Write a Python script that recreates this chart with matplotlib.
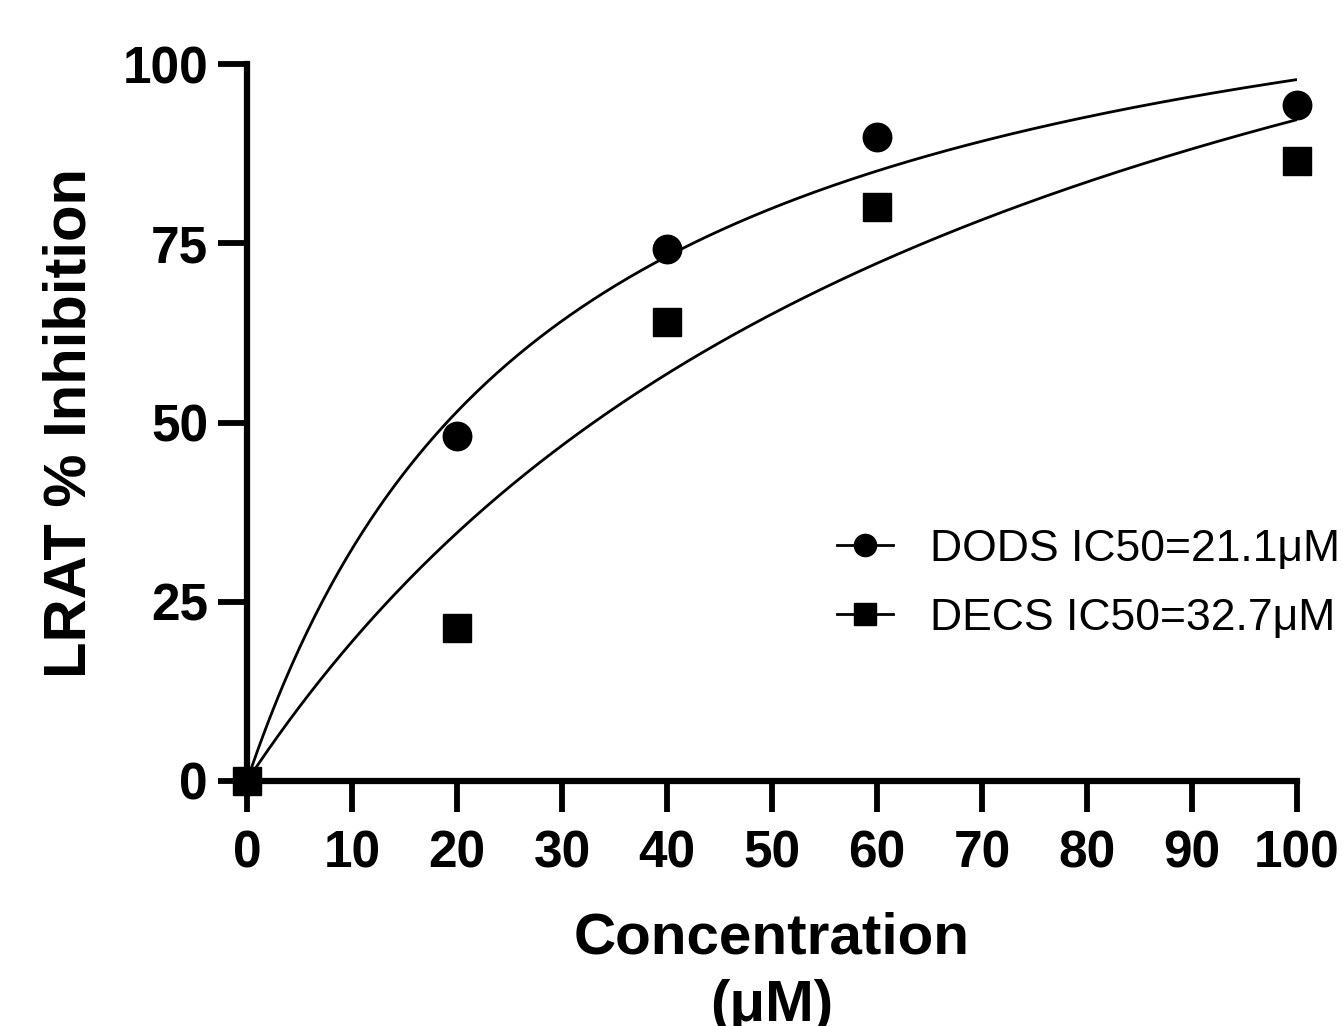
import numpy as np
import matplotlib
matplotlib.use("Agg")
import matplotlib.pyplot as plt
from matplotlib.lines import Line2D

plt.rcParams['font.family'] = ['Liberation Sans', 'DejaVu Sans']

# measured points (concentration in uM, % inhibition)
conc = [0, 20, 40, 60, 100]
dods = [0, 48.1, 74.2, 89.8, 94.3]
decs = [0, 21.3, 64.0, 80.1, 86.5]

# hyperbolic fit parameters: y = top*x/(k+x)
fit_top = [126.2, 158.0]
fit_k = [29.0, 71.3]

labels = ["DODS IC50=21.1\u03bcM", "DECS IC50=32.7\u03bcM"]
markers = ["o", "s"]

x_ticks = list(range(0, 101, 10))
y_ticks = [0, 25, 50, 75, 100]

fig = plt.figure(figsize=(13.43, 10.26), dpi=100)
ax = fig.add_axes([0.1839, 0.2388, 0.7818, 0.6988])

xs = np.linspace(0, 100, 400)
for series, m, top, k in zip([dods, decs], markers, fit_top, fit_k):
    ax.plot(xs, top * xs / (k + xs), color="black", lw=2.0, zorder=2)
    ax.plot(conc, series, linestyle="none", marker=m, markersize=20.5,
            color="black", clip_on=False, zorder=4)

ax.set_xlim(0, 100)
ax.set_ylim(0, 100)
ax.set_xticks(x_ticks)
ax.set_yticks(y_ticks)

for side in ["top", "right"]:
    ax.spines[side].set_visible(False)
for side in ["left", "bottom"]:
    ax.spines[side].set_linewidth(4.5)
    ax.spines[side].set_capstyle("projecting")

ax.tick_params(axis="both", direction="out", width=4.2, color="black",
               labelsize=37)
ax.tick_params(axis="x", length=22, pad=13)
ax.tick_params(axis="y", length=21, pad=7)
for lbl in ax.get_xticklabels() + ax.get_yticklabels():
    lbl.set_fontweight("bold")

ax.set_ylabel("LRAT % Inhibition", fontsize=43, fontweight="bold", labelpad=18)
ax.set_xlabel("Concentration\n(\u03bcM)", fontsize=42, fontweight="bold",
              labelpad=24, linespacing=1.3)

handles = [Line2D([], [], color="black", lw=2, marker=m, markersize=16)
           for m in markers]
ax.legend(handles, labels, loc="upper left", bbox_to_anchor=(0.562, 0.352),
          frameon=False, fontsize=32, borderpad=0, borderaxespad=0,
          handlelength=1.26, handletextpad=0.83, labelspacing=0.63)

fig.savefig("out.png", dpi=100)
